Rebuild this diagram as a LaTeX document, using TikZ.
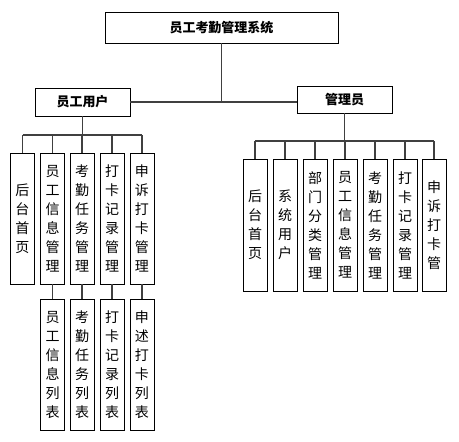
\documentclass[tikz,border=0pt]{standalone}
\usepackage{fontspec}
\newfontfamily\cjk{Noto Sans CJK SC}
\begin{document}
\begin{tikzpicture}[x=1pt,y=-1pt,
  box/.style={draw=black, line width=0.9pt, inner sep=0pt, minimum width=24pt, minimum height=131pt, align=center, font=\fontsize{14}{19}\selectfont\cjk},
  head/.style={draw=black, line width=0.9pt, inner sep=0pt, font=\fontsize{13}{15}\selectfont\cjk\bfseries},
  conn/.style={draw=black!75, line width=1.1pt}]
\useasboundingbox (0,0) rectangle (459,442);
\node[head, minimum width=233pt, minimum height=31pt] (top) at (221.5,27.5) {员工考勤管理系统};
\node[head, minimum width=95pt, minimum height=28pt] (uy) at (82.5,102) {员工用户};
\node[head, minimum width=95pt, minimum height=27pt] (ad) at (344.5,99.5) {管理员};
% left children
\node[box] (l1) at (22.5,218.5) {后\\台\\首\\页};
\node[box] (l2) at (52.5,218.5) {员\\工\\信\\息\\管\\理};
\node[box] (l3) at (82,218.5) {考\\勤\\任\\务\\管\\理};
\node[box] (l4) at (112,218.5) {打\\卡\\记\\录\\管\\理};
\node[box] (l5) at (142,218.5) {申\\诉\\打\\卡\\管\\理};
\node[box] (m2) at (52.5,364.5) {员\\工\\信\\息\\列\\表};
\node[box] (m3) at (82,364.5) {考\\勤\\任\\务\\列\\表};
\node[box] (m4) at (112,364.5) {打\\卡\\记\\录\\列\\表};
\node[box] (m5) at (142,364.5) {申\\述\\打\\卡\\列\\表};
% right children
\node[box, minimum height=132pt] (r1) at (255,225) {后\\台\\首\\页};
\node[box, minimum height=132pt] (r2) at (285,225) {系\\统\\用\\户};
\node[box, minimum height=132pt] (r3) at (315,225) {部\\门\\分\\类\\管\\理};
\node[box, minimum height=132pt] (r4) at (345,225) {员\\工\\信\\息\\管\\理};
\node[box, minimum height=132pt] (r5) at (375,225) {考\\勤\\任\\务\\管\\理};
\node[box, minimum height=132pt] (r6) at (405,225) {打\\卡\\记\\录\\管\\理};
\node[box, minimum height=132pt] (r7) at (434,225) {申\\诉\\打\\卡\\管};
% connectors
\coordinate (tj) at (top.south |- uy.east);
\draw[conn] (top.south) -- (tj);
\draw[conn] (uy.east) -- (ad.west |- uy.east);
\coordinate (lb) at (0,135);
\draw[conn] (uy.south) -- (uy.south |- lb);
\draw[conn] (l1.north |- lb) -- (l5.north |- lb);
\foreach \n in {l1,l2,l3,l4,l5} \draw[conn] (\n.north |- lb) -- (\n.north);
\foreach \a/\b in {l2/m2,l3/m3,l4/m4,l5/m5} \draw[conn] (\a.south) -- (\b.north);
\coordinate (rb) at (0,141);
\draw[conn] (ad.south) -- (ad.south |- rb);
\draw[conn] (r1.north |- rb) -- (r7.north |- rb);
\foreach \n in {r1,r2,r3,r4,r5,r6,r7} \draw[conn] (\n.north |- rb) -- (\n.north);
\end{tikzpicture}
\end{document}
